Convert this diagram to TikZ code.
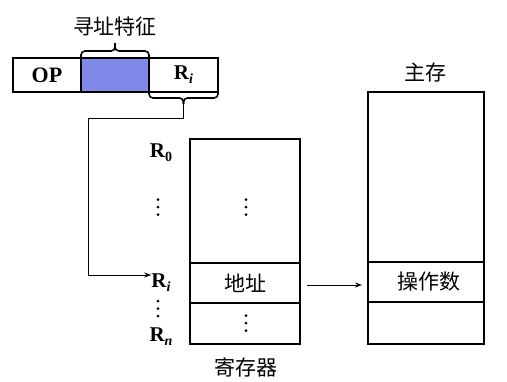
\documentclass[tikz,border=0pt]{standalone}
\usepackage{fontspec}
\setmainfont{Liberation Serif}
\newfontfamily\cjk{Noto Sans CJK SC}
\usetikzlibrary{arrows.meta,calc}
\newcommand\mysub[1]{\raisebox{-0.4ex}{\fontsize{14}{14}\selectfont\bfseries #1}}
\begin{document}
\begin{tikzpicture}[x=1pt,y=-1pt,
  cell/.style={draw, line width=1.8pt, inner sep=0pt, outer sep=0pt, minimum width=#1},
  cell/.default=68pt,
  reglbl/.style={font=\fontsize{21}{21}\selectfont\bfseries, inner sep=0pt},
  cjklbl/.style={font=\cjk\fontsize{21}{21}\selectfont, inner sep=0pt},
  conn/.style={line width=1pt},
  bracestyle/.style={line width=1.6pt, rounded corners=4pt},
  tip/.style={-{Stealth[length=7pt,width=5pt]}},
  vd/.pic={\fill (0,-7.5) circle (1.5pt) (0,0) circle (1.5pt) (0,7.5) circle (1.5pt);}
]
\useasboundingbox (0,0) rectangle (507,381);
% instruction
\node[cell=68pt, minimum height=34pt, font=\fontsize{22}{22}\selectfont\bfseries] (op) at (47,75) {OP};
\node[cell=68pt, minimum height=34pt, fill={rgb,255:red,128;green,136;blue,232}] (mode) at (115,75) {};
\node[cell=69pt, minimum height=34pt, font=\fontsize{21}{21}\selectfont\bfseries] (ri) at (183.5,75) {R\mysub{\itshape i}};
% top brace
\coordinate (tbt) at ($(mode.north)+(0,-15)$);
\draw[bracestyle] (mode.north west) -- ++(0,-7) -| (tbt);
\draw[bracestyle] (mode.north east) -- ++(0,-7) -| (tbt);
\node[cjklbl] (feat) at (115,27) {寻址特征};
% bottom brace
\coordinate (tipb) at ($(ri.south)+(0,12)$);
\draw[bracestyle] (ri.south west) -- ++(0,6) -| (tipb);
\draw[bracestyle] (ri.south east) -- ++(0,6) -| (tipb);
\coordinate (k1) at (88,118);
\coordinate (k2) at (88,275);
% register file
\node[cell=110pt, minimum height=124pt] (regtop) at (245,201) {};
\node[cell=110pt, minimum height=40pt, font=\cjk\fontsize{21}{21}\selectfont] (regaddr) at (245,283) {地址};
\node[cell=110pt, minimum height=41pt] (regbot) at (245,323.5) {};
\pic at (246,207) {vd};
\pic at (246,323) {vd};
\node[cjklbl] (regname) at (246,367) {寄存器};
% register labels
\node[reglbl] (r0) at (161,153) {R\mysub{0}};
\pic at (158,207) {vd};
\node[reglbl] (rl) at (161,283) {R\mysub{\itshape i}};
\pic at (158,308.5) {vd};
\node[reglbl] (rn) at (161,337) {R\mysub{\itshape n}};
% main memory
\node[cell=116pt, minimum height=170pt] (memtop) at (426,177) {};
\node[cell=116pt, minimum height=40pt, font=\cjk\fontsize{21}{21}\selectfont] (memop) at (426,282) {\hspace{6pt}操作数};
\node[cell=116pt, minimum height=42pt] (membot) at (426,323) {};
\node[cjklbl] (memname) at (425,73) {主存};
% connectors
\draw[conn, tip] (tipb) |- (k1) -- (k2) -- (k2 -| rl.west);
\draw[conn, tip, shorten <=7pt, shorten >=6pt] (regaddr.east |- 0,285) -- (memop.west |- 0,285);
\end{tikzpicture}
\end{document}
